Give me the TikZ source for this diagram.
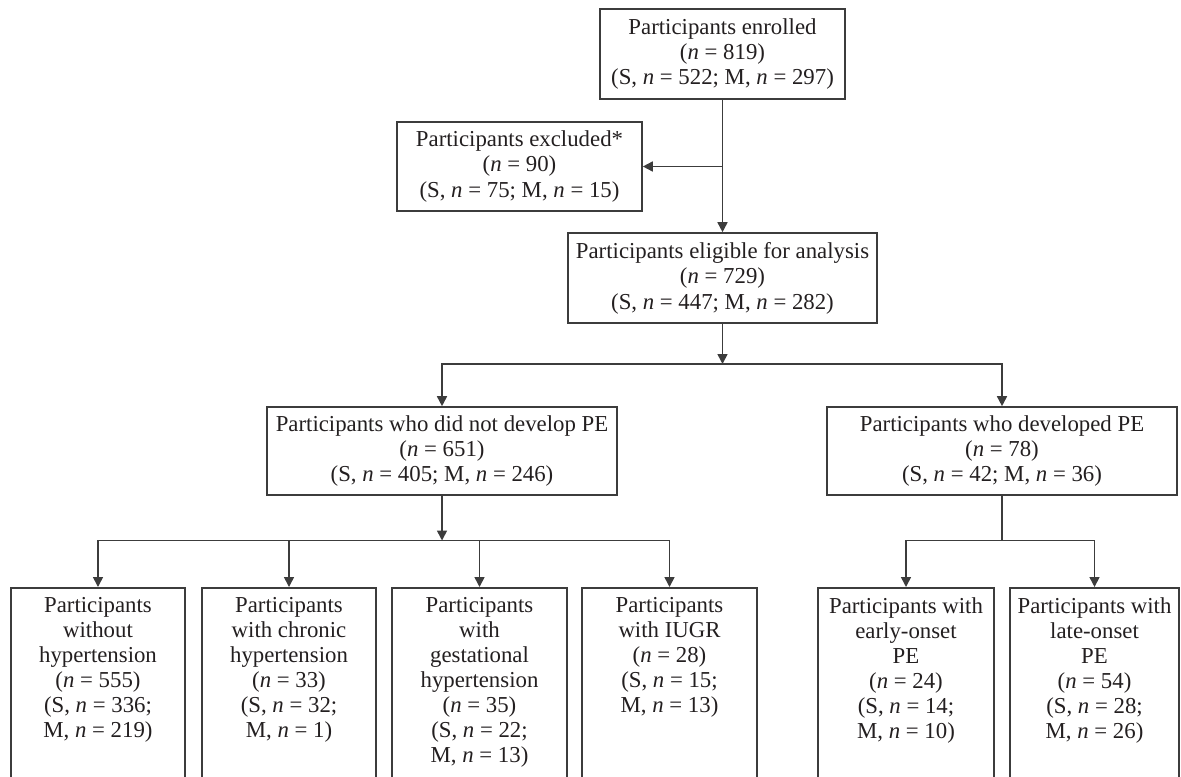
\documentclass[tikz,border=0pt]{standalone}
\usepackage{fontspec}
\setmainfont{Liberation Serif}
\usetikzlibrary{arrows.meta}
\definecolor{ln}{HTML}{3C3C3C}
\definecolor{tx}{HTML}{231F20}
\newcommand{\nv}{\textit{n}}
\begin{document}
\begin{tikzpicture}[x=0.5pt,y=-0.5pt,
  box/.style={draw=ln, line width=0.8pt, text=tx, align=center,
    font=\fontsize{11.4}{12.7}\selectfont, inner sep=0pt},
  low/.style={draw=ln, line width=0.8pt, text=tx, anchor=north,
    inner xsep=0pt, inner ysep=5pt, font=\fontsize{11.4}{12.5}\selectfont},
  arr/.style={draw=ln, line width=0.8pt, -{Triangle[width=5pt,length=5pt]}},
  con/.style={draw=ln, line width=0.8pt}]
\useasboundingbox (0,0) rectangle (1181,776);
\node[box, minimum width=122.5pt, minimum height=45pt] (enr) at (722.5,54)
  {Participants enrolled\\(\nv{} = 819)\\(S, \nv{} = 522; M, \nv{} = 297)};
\node[box, minimum width=122.5pt, minimum height=44.5pt] (exc) at (519.5,166.5)
  {Participants excluded*\\(\nv{} = 90)\\(S, \nv{} = 75; M, \nv{} = 15)};
\node[box, minimum width=154.5pt, minimum height=45pt] (eli) at (722.5,278)
  {Participants eligible for analysis\\(\nv{} = 729)\\(S, \nv{} = 447; M, \nv{} = 282)};
\node[box, minimum width=175pt, minimum height=44pt] (nod) at (442,451)
  {Participants who did not develop PE\\(\nv{} = 651)\\(S, \nv{} = 405; M, \nv{} = 246)};
\node[box, minimum width=175pt, minimum height=44pt] (dev) at (1002,451)
  {Participants who developed PE\\(\nv{} = 78)\\(S, \nv{} = 42; M, \nv{} = 36)};

\node[low] (b1) at (98,587) {\parbox[t][100pt][t]{87pt}{\centering
  Participants\\without\\hypertension\\(\nv{} = 555)\\(S, \nv{} = 336;\\M, \nv{} = 219)}};
\node[low] (b2) at (289,587) {\parbox[t][100pt][t]{87pt}{\centering
  Participants\\with chronic\\hypertension\\(\nv{} = 33)\\(S, \nv{} = 32;\\M, \nv{} = 1)}};
\node[low] (b3) at (479.5,587) {\parbox[t][100pt][t]{87.5pt}{\centering
  Participants\\with\\gestational\\hypertension\\(\nv{} = 35)\\(S, \nv{} = 22;\\M, \nv{} = 13)}};
\node[low] (b4) at (669.5,587) {\parbox[t][100pt][t]{87.5pt}{\centering
  Participants\\with IUGR\\(\nv{} = 28)\\(S, \nv{} = 15;\\M, \nv{} = 13)}};
\node[low] (b5) at (906,587) {\parbox[t][100pt][t]{88pt}{\centering
  Participants with\\early-onset\\PE\\(\nv{} = 24)\\(S, \nv{} = 14;\\M, \nv{} = 10)}};
\node[low] (b6) at (1094.5,587) {\parbox[t][100pt][t]{84.5pt}{\centering
  Participants with\\late-onset\\PE\\(\nv{} = 54)\\(S, \nv{} = 28;\\M, \nv{} = 26)}};

\coordinate (j1) at (722.5,166.5);
\coordinate (h1) at (722.5,364);
\coordinate (h2) at (442,540.5);
\coordinate (h3) at (1002,540.5);

\draw[arr] (enr.south) -- (eli.north);
\draw[arr] (j1) -- (exc.east);
\draw[arr] (eli.south) -- (h1);
\draw[arr] (h1) -| (nod.north);
\draw[arr] (h1) -| (dev.north);
\draw[arr] (nod.south) -- (h2);
\draw[arr] (h2) -| (b1.north);
\draw[arr] (h2) -| (b2.north);
\draw[arr] (h2) -| (b3.north);
\draw[arr] (h2) -| (b4.north);
\draw[con] (dev.south) -- (h3);
\draw[arr] (h3) -| (b5.north);
\draw[arr] (h3) -| (b6.north);
\end{tikzpicture}
\end{document}
